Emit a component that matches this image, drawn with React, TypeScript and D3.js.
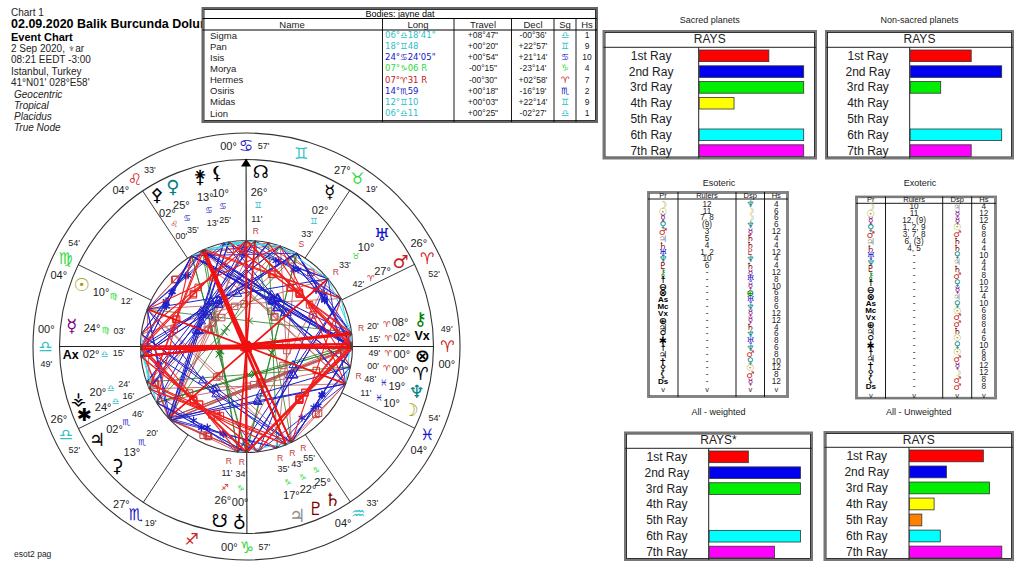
import React from "react";
import * as d3 from "d3";

// ---------- wheel data ----------
const signGlyphs = ["♈","♉","♊","♋","♌","♍","♎","♏","♐","♑","♒","♓"];
const elementColors = ["#d02020","#30d840","#30c0c8","#1414c8"];
const cuspSign = [6,6,7,9,10,11,0,0,1,3,4,5];
const cuspDeg = [0,26,27,0,4,4,0,26,27,0,4,4];
const cuspMin = [49,52,19,57,33,54,49,52,19,57,33,54];
const interceptedSigns = [2,8];

const bodyKeys = ["moon","neptune","aries","fortune","vertex","chiron","mars","uranus","vulcan","node","cap","cross","venus","person","sun","mercury","ax","figure","juno","pallas","anchor","snode","hades","jupiter","pluto","saturn"];
const bodyGlyphs = ["☽","♆","♈","⊗","Vx","⚷","♂","♅","☿","☊","⚸","⚵","♀","⚴","☉","☿","Ax","⚶","✱","♃","⚳","☋","♁","♃","♇","♄"];
const bodySigns = [11,11,0,0,0,0,0,1,2,2,3,3,3,4,5,5,6,6,6,7,7,8,9,9,9,9];
const bodyDegs = [10,19,0,0,2,8,27,10,2,26,10,13,25,2,10,24,2,20,24,2,13,26,0,17,22,25];
const bodyMins = [11,48,0,49,15,20,42,33,33,11,25,13,35,0,12,3,15,24,16,46,20,11,34,35,43,55];
const bodyFlags = ["","R","","","","R","","R","S","R","","","","","","","","","","","","R","R","R","R","R"];
const bodyColors = ["#a8a020","#008080","#000","#000","#000","#008000","#c82020","#1010d0","#000","#000","#000","#000","#008080","#000","#a09a10","#800080","#000","#000","#000","#000","#000","#000","#000","#909090","#800000","#800000"];
const bodyLabelNudge = [-0.5,-3.8,-7.9,-2.8,2,1.5,2.1,0,0,0,0,3,0,-0.6,0,0,1.4,-2.4,-0.7,0,0,-4.1,-2.1,0,1.4,4.2];

// ---------- aspect definitions ----------
const aspectAngles = [180,90,120,60,45,135,150,30];
const aspectOrbs = [3,3.5,6,5,2.5,3,2.5,2.5];
const aspectColors = ["#f01010","#ee2020","#2020c8","#2020c8","#c83838","#bb5050","#208020","#40d8e8"];
const aspectWidths = [1.7,1.1,1,0.9,0.8,0.8,0.8,1];
const aspectSymbols = ["square","square","triangle","star","square","square","cross","none"];

// ---------- ray panels ----------
const rayLabels = ["1st Ray","2nd Ray","3rd Ray","4th Ray","5th Ray","6th Ray","7th Ray"];
const rayColors = ["#ff0000","#0000ee","#00ee00","#ffff00","#ff8000","#00ffff","#ff00ff"];
const sacredValues = [2,3,3,1,0,3,3];
const nonSacredValues = [2,3,1,0,0,3,2];
const weightedValues = [3,7,7,0,0,7,5];
const unweightedValues = [12,6,13,4,2,5,15];

// ---------- disposition tables ----------
const prGlyphs = ["☽","☉","☿","♀","♂","♃","♄","♅","♆","♇","⚷","☨","⊖","⊗","As","Mc","Vx","⊕","♃","⚲","✱","☨","♃","✝","⚴","⚸","Ds"];
const prColors = ["#a8a020","#a09a10","#800080","#008080","#c82020","#909090","#800000","#1010d0","#008080","#800000","#008000"];
const esoRulers = ["12","11","7, 8","(9)","3","5","4","1, 2","10","6"];
const esoDisp = ["♆","☽","☽","♆","☿","♄","♄","♇","♆","♄","☿","♅","☿","⊕","♅","♆","☿","☿","♄","♆","♅","♆","♂","♀","☉","♂","☿"];
const esoHouses = ["4","6","6","6","12","4","4","12","4","4","12","8","10","6","8","6","12","12","4","6","8","6","8","10","12","8","12"];
const exoRulers = ["10","11","12, (9)","1, 2, 9","3, 7, 8","6, (3)","4, 5"];
const exoDisp = ["♃","☿","☿","☉","♂","♄","♄","♀","♃","♄","♂","♀","☿","♃","♀","☉","♂","♂","♄","☉","♀","☉","♂","☿","☽","♂","♂"];
const exoHouses = ["4","12","12","6","8","4","4","10","4","4","8","10","12","4","10","6","8","8","4","6","10","6","8","12","12","8","8"];
const dispColors: Record<string,string> = {"☽":"#a8a020","☉":"#a09a10","☿":"#800080","♀":"#008080","♂":"#c82020","♃":"#909090","♄":"#800000","♅":"#1010d0","♆":"#008080","♇":"#a02020","⊕":"#008000"};

// ---------- header text ----------
const headerLines = ["2 Sep 2020, ♆ar","08:21  EEDT -3:00","Istanbul, Turkey","41°N01' 028°E58'"];
const italicLines = ["Geocentric","Tropical","Placidus","True Node"];
const tableNames = ["Sigma","Pan","Isis","Morya","Hermes","Osiris","Midas","Lion"];
const tableLong = ["06°♎18'41\"","18°♊48","24°♋24'05\"","07°♑06 R","07°♈31 R","14°♏59","12°♊10","06°♎11"];
const tableTravel = ["+08°47\"","+00°20\"","+00°54\"","-00°15\"","-00°30\"","+00°18\"","+00°03\"","+00°25\""];
const tableDecl = ["-00°36'","+22°57'","+21°14'","-23°14'","+02°58'","-16°19'","+22°14'","-02°27'"];
const tableSigns = [6,2,3,9,0,7,2,6];
const tableDegs = [6,18,24,7,7,14,12,6];
const tableMins = [18,48,24,6,31,59,10,11];
const tableHouses = ["1","9","10","4","7","2","9","1"];

const FONT = "'Liberation Sans', Arial, sans-serif";
const GLYPH = "'DejaVu Sans', sans-serif";
const cx = 246.5, cy = 346.5;
const R = { outer: 213.5, ring: 187, inner: 106, sign: 201, glyph: 176, deg: 155.5, signIn: 142, min: 128, flag: 116 };

const angleOf = d3.scaleLinear().domain([0,360]).range([-0.82,359.18]);
const lonOf = (s:number,d:number,m:number)=> s*30+d+m/60;
const polar = (deg:number,r:number)=>{
  const a = deg*Math.PI/180;
  return [cx+r*Math.cos(a), cy-r*Math.sin(a)] as [number,number];
};
const signColor = (s:number)=> elementColors[s%4];

const cuspLons = cuspSign.map((s,i)=>lonOf(s,cuspDeg[i],cuspMin[i]));
const bodyLons = bodyKeys.map((_,i)=>lonOf(bodySigns[i],bodyDegs[i],bodyMins[i]));
const tableLons = tableSigns.map((s,i)=>lonOf(s,tableDegs[i],tableMins[i]));
// Web members: every body, the bodies of the table, and the four angles
const webLons = [...bodyLons, ...tableLons, cuspLons[0], cuspLons[3], cuspLons[6], cuspLons[9]];

const aspects: {a:number;b:number;t:number}[] = [];
webLons.forEach((la,a)=>webLons.forEach((lb,b)=>{
  if(b<=a) return;
  let sep = Math.abs(la-lb); if(sep>180) sep = 360-sep;
  aspectAngles.forEach((ang,t)=>{ if(Math.abs(sep-ang)<=aspectOrbs[t]) aspects.push({a,b,t}); });
}));
const symbolGen = (name:string)=>{
  const type = name==="square"?d3.symbolSquare:name==="triangle"?d3.symbolTriangle2:name==="star"?d3.symbolAsterisk:d3.symbolX;
  return d3.symbol().type(type as any).size(name==="square"?42:name==="triangle"?48:name==="star"?40:30)()!;
};

function Txt(p:any){
  const {x,y,size=10,fill="#000",anchor="middle",font=FONT,weight,style,children}=p;
  return <text x={x} y={y} fontSize={size} fill={fill} textAnchor={anchor} fontFamily={font} fontWeight={weight} fontStyle={style} dominantBaseline="central">{children}</text>;
}

function Wheel(){
  const order = [...aspects].sort((p,q)=>aspectWidths[p.t]-aspectWidths[q.t]);
  return <g>
    <circle cx={cx} cy={cy} r={R.outer} fill="none" stroke="#333" strokeWidth={1.1}/>
    <circle cx={cx} cy={cy} r={R.ring} fill="none" stroke="#333" strokeWidth={1.1}/>
    <circle cx={cx} cy={cy} r={R.inner} fill="none" stroke="#333" strokeWidth={1.1}/>
    {cuspLons.map((l,i)=>{
      const th = angleOf(l);
      const [x1,y1]=polar(th,R.inner),[x2,y2]=polar(th,R.ring);
      const norm = ((th%360)+360)%360;
      const upper = norm<179;
      const sgn = upper?1:-1;
      const [dx,dy]=polar(th+sgn*5,R.sign),[sx,sy]=polar(th,R.sign),[mx,my]=polar(th-sgn*5,R.sign);
      return <g key={i}>
        <line x1={x1} y1={y1} x2={x2} y2={y2} stroke="#222" strokeWidth={i%3===0?1.1:0.9}/>
        <Txt x={dx} y={dy} size={11} fill="#222">{String(cuspDeg[i]).padStart(2,"0")}°</Txt>
        <Txt x={sx} y={sy} size={16} fill={signColor(cuspSign[i])} font={GLYPH} weight="bold">{signGlyphs[cuspSign[i]]}</Txt>
        <Txt x={mx} y={my} size={9} fill="#222">{String(cuspMin[i]).padStart(2,"0")}'</Txt>
      </g>;
    })}
    <path d={(()=>{const [x,y]=polar(angleOf(cuspLons[9]),R.ring);return `M${x},${y-1}l-5,8l10,0z`;})()} fill="#000"/>
    {interceptedSigns.map(s=>{const [x,y]=polar(angleOf(s*30+15),R.sign);return <Txt key={s} x={x} y={y} size={16} fill={signColor(s)} font={GLYPH} weight="bold">{signGlyphs[s]}</Txt>;})}

    {order.map((d,i)=>{
      const [x1,y1]=polar(angleOf(webLons[d.a]),R.inner),[x2,y2]=polar(angleOf(webLons[d.b]),R.inner);
      const sym = aspectSymbols[d.t];
      const c = aspectColors[d.t];
      return <g key={i}>
        <line x1={x1} y1={y1} x2={x2} y2={y2} stroke={c} strokeWidth={aspectWidths[d.t]}/>
        {sym!=="none" && <path d={symbolGen(sym)} transform={`translate(${(x1+x2)/2},${(y1+y2)/2})`} fill={sym==="star"?c:"none"} stroke={c} strokeWidth={sym==="star"?1.2:1}/>}
      </g>;
    })}
    {webLons.map((l,i)=>{const [x,y]=polar(angleOf(l),R.inner-1);return <circle key={i} cx={x} cy={y} r={1.3} fill="#444"/>;})}

    {bodyKeys.map((k,i)=>{
      const th = angleOf(bodyLons[i])+bodyLabelNudge[i];
      const [gx,gy]=polar(th,R.glyph),[dx,dy]=polar(th,R.deg),[sx,sy]=polar(th,R.signIn),[mx,my]=polar(th,R.min),[fx,fy]=polar(th,R.flag);
      const letters = bodyGlyphs[i].length>1;
      return <g key={k}>
        <Txt x={gx} y={gy} size={letters?12.5:18} fill={bodyColors[i]} font={letters?FONT:GLYPH} weight="bold">{bodyGlyphs[i]}</Txt>
        <Txt x={dx} y={dy} size={11} fill="#222">{String(bodyDegs[i]).padStart(2,"0")}°</Txt>
        <Txt x={sx} y={sy} size={8.5} fill={signColor(bodySigns[i])} font={GLYPH}>{signGlyphs[bodySigns[i]]}</Txt>
        <Txt x={mx} y={my} size={9} fill="#222">{String(bodyMins[i]).padStart(2,"0")}'</Txt>
        {bodyFlags[i] && <Txt x={fx} y={fy} size={8.5} fill="#c04040">{bodyFlags[i]}</Txt>}
      </g>;
    })}
  </g>;
}

function RayPanel({title,head,values,x0,x1,y0,y1,headY,div,barMax}:any){
  const band = d3.scaleBand().domain(rayLabels).range([headY+0.8,y1-0.2]).paddingInner(0.265).paddingOuter(0.12);
  const w = d3.scaleLinear().domain([0,d3.max(values as number[]) as number]).range([0,barMax]);
  return <g>
    <Txt x={(x0+x1)/2} y={title[1]} size={9} fill="#222">{title[0]}</Txt>
    <rect x={x0} y={y0} width={x1-x0} height={y1-y0} fill="#fff" stroke="#777" strokeWidth={2}/>
    <rect x={x0+1.5} y={y0+1.5} width={x1-x0-3} height={y1-y0-3} fill="none" stroke="#000" strokeWidth={0.8}/>
    <line x1={x0} x2={x1} y1={headY} y2={headY} stroke="#222" strokeWidth={1}/>
    <line x1={div} x2={div} y1={headY} y2={y1} stroke="#222" strokeWidth={1}/>
    <Txt x={(x0+x1)/2} y={(y0+headY)/2} size={12} fill="#222">{head}</Txt>
    {rayLabels.map((l,i)=><g key={l}>
      <Txt x={(x0+div)/2} y={band(l)!+band.bandwidth()/2} size={12} fill="#222">{l}</Txt>
      {values[i]>0 && <rect x={div+0.5} y={band(l)!} width={w(values[i])} height={band.bandwidth()} fill={rayColors[i]} stroke="#333" strokeWidth={0.8}/>}
    </g>)}
  </g>;
}

function Dispositors({title,titleX,titleY,x0,x1,y0,y1,headY,cols,rulers,disp,houses,rowY,pitch}:any){
  const y = (i:number)=>rowY+i*pitch;
  const centers = [(x0+cols[0])/2,(cols[0]+cols[1])/2,(cols[1]+cols[2])/2,(cols[2]+x1)/2];
  const heads=["Pr","Rulers","Dsp","Hs"];
  return <g>
    <Txt x={titleX} y={titleY} size={9} fill="#222">{title}</Txt>
    <rect x={x0} y={y0} width={x1-x0} height={y1-y0} fill="#fff" stroke="#777" strokeWidth={1.8}/>
    <rect x={x0+1.3} y={y0+1.3} width={x1-x0-2.6} height={y1-y0-2.6} fill="none" stroke="#333" strokeWidth={0.6}/>
    <line x1={x0} x2={x1} y1={headY} y2={headY} stroke="#000" strokeWidth={0.9}/>
    {cols.map((c:number)=><line key={c} x1={c} x2={c} y1={y0} y2={y1} stroke="#000" strokeWidth={0.9}/>)}
    {heads.map((h,i)=><Txt key={h} x={centers[i]} y={(y0+headY)/2} size={7.5} fill="#111">{h}</Txt>)}
    {prGlyphs.map((g,i)=>{
      const letters=g.length>1;
      return <g key={i}>
        <Txt x={centers[0]} y={y(i)} size={letters?8:9.5} fill={prColors[i]||"#000"} font={letters?FONT:GLYPH} weight="bold">{g}</Txt>
        <Txt x={centers[1]} y={y(i)} size={8.2} fill="#222">{rulers[i]??"-"}</Txt>
        <Txt x={centers[2]} y={y(i)} size={9} fill={dispColors[disp[i]]} font={GLYPH} weight="bold">{disp[i]}</Txt>
        <Txt x={centers[3]} y={y(i)} size={8.2} fill="#222">{houses[i]}</Txt>
      </g>;
    })}
    {centers.map((c,i)=><Txt key={i} x={c} y={y(27)+1.5} size={7.5} fill="#222">v</Txt>)}
  </g>;
}

function BodiesTable(){
  const x0=202.5,x1=597,y0=8,y1=122;
  const cols=[382.5,454,511.5,554,576];
  const rowY=(i:number)=>35+i*11.15;
  const centers=[292,418,483,533,565,587];
  return <g>
    <rect x={x0} y={y0} width={x1-x0} height={y1-y0} fill="#fff" stroke="#666" strokeWidth={2}/>
    <rect x={x0+1.5} y={y0+1.5} width={x1-x0-3} height={y1-y0-3} fill="none" stroke="#000" strokeWidth={0.8}/>
    <line x1={x0} x2={x1} y1={18.5} y2={18.5} stroke="#000"/>
    <line x1={x0} x2={x1} y1={30} y2={30} stroke="#000"/>
    {cols.map(c=><line key={c} x1={c} x2={c} y1={18.5} y2={y1} stroke="#000" strokeWidth={0.9}/>)}
    <Txt x={400} y={14} size={9}>Bodies: jayne dat</Txt>
    {["Name","Long","Travel","Decl","Sg","Hs"].map((h,i)=><Txt key={h} x={centers[i]} y={24.5} size={9.5} fill="#222">{h}</Txt>)}
    {tableNames.map((n,i)=><g key={n}>
      <Txt x={210} y={rowY(i)} size={9.5} anchor="start" fill="#222">{n}</Txt>
      <Txt x={385} y={rowY(i)} size={8.5} anchor="start" fill={i===4?"#c02020":signColor(tableSigns[i])} font={GLYPH} >{tableLong[i]}</Txt>
      <Txt x={483} y={rowY(i)} size={8.5} fill="#222">{tableTravel[i]}</Txt>
      <Txt x={533} y={rowY(i)} size={8.5} fill="#222">{tableDecl[i]}</Txt>
      <Txt x={565} y={rowY(i)} size={9} fill={signColor(tableSigns[i])} font={GLYPH}>{signGlyphs[tableSigns[i]]}</Txt>
      <Txt x={587} y={rowY(i)} size={8.5} fill="#222">{tableHouses[i]}</Txt>
    </g>)}
  </g>;
}

export default function App(){
  return <svg width={1024} height={566} viewBox="0 0 1024 566" style={{position:"absolute",left:0,top:0,background:"#fff"}}>
    <Txt x={11} y={12} anchor="start" size={10} fill="#222">Chart 1</Txt>
    <Txt x={11} y={24} anchor="start" size={12.5} weight="bold">02.09.2020 Balik Burcunda Dolunay</Txt>
    <Txt x={11} y={36.5} anchor="start" size={11} weight="bold">Event Chart</Txt>
    {headerLines.map((l,i)=><Txt key={l} x={11} y={48.7+i*11.2} anchor="start" size={10} fill="#222">{l}</Txt>)}
    {italicLines.map((l,i)=><Txt key={l} x={14} y={94.3+i*11.1} anchor="start" size={10} fill="#222" style="italic">{l}</Txt>)}
    <Txt x={14} y={554} anchor="start" size={8.5} fill="#222">esot2 pag</Txt>
    <BodiesTable/>
    <Wheel/>
    <RayPanel title={["Sacred planets",20]} head="RAYS" values={sacredValues} x0={603.5} x1={816} y0={31} y1={158.5} headY={47.3} div={698.7} barMax={104.5}/>
    <RayPanel title={["Non-sacred planets",20]} head="RAYS" values={nonSacredValues} x0={826} x1={1013} y0={31} y1={158.5} headY={47.3} div={909.7} barMax={91.5}/>
    <RayPanel title={["All - weighted",412]} head="RAYS*" values={weightedValues} x0={625} x1={812} y0={432.5} y1={560} headY={448.3} div={708.7} barMax={91.3}/>
    <RayPanel title={["All - Unweighted",412]} head="RAYS" values={unweightedValues} x0={824.5} x1={1013} y0={432} y1={560} headY={447.3} div={909} barMax={92.3}/>
    <Dispositors title="Esoteric" titleX={719} titleY={182.5} x0={648} x1={788} y0={192} y1={397} headY={199} cols={[678,736,764.5]} rulers={esoRulers} disp={esoDisp} houses={esoHouses} rowY={204.3} pitch={6.82}/>
    <Dispositors title="Exoteric" titleX={920} titleY={182.5} x0={856} x1={996} y0={196.5} y1={398.5} headY={203.3} cols={[885.5,942.7,971.7]} rulers={exoRulers} disp={exoDisp} houses={exoHouses} rowY={206.7} pitch={6.92}/>
  </svg>;
}
